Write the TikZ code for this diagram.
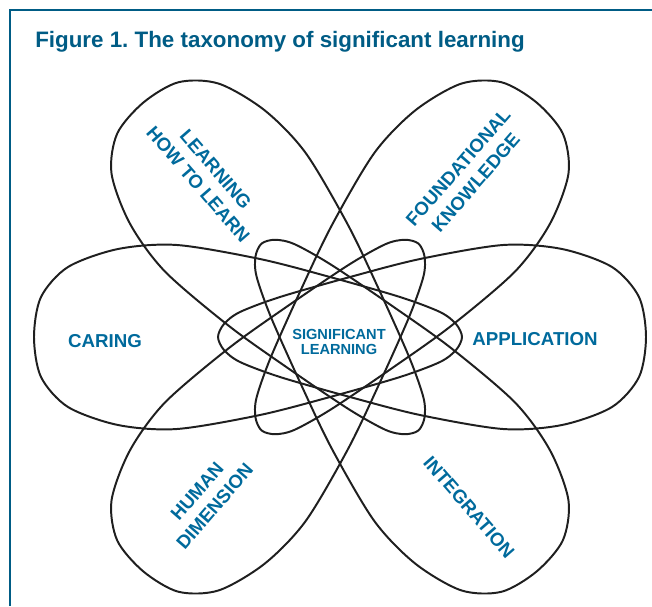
\documentclass[tikz,border=0pt]{standalone}
\usepackage{fontspec}
\setmainfont{Liberation Sans}
\usetikzlibrary{positioning}
\definecolor{frameColor}{RGB}{0,92,133}
\definecolor{labelColor}{RGB}{0,106,156}
\tikzset{petalLine/.style={draw=black!88, line width=1.4pt, line join=round}}
\tikzset{petalText/.style={text=labelColor, font=\bfseries\fontsize{13.3}{16.5}\selectfont, align=center, inner sep=0pt}}
\tikzset{hubText/.style={petalText, font=\bfseries\fontsize{10.4}{10.8}\selectfont}}
\tikzset{titleText/.style={text=frameColor, font=\bfseries\fontsize{15.9}{18}\selectfont, inner sep=0pt}}
\frenchspacing

\begin{document}
\begin{tikzpicture}[x=0.025cm, y=-0.025cm]
\useasboundingbox (0,0) rectangle (652,606);
% Frame
\draw[frameColor, line width=2.1pt] (10,606) -- (10,10) -- (652,10);
\node (title) [titleText, anchor=base west] at (35,47) {Figure 1. The taxonomy of significant learning};

% Petals
\coordinate (hub) at (340,337);
\foreach \ang in {0,50,130,180,230,310}
  \draw[petalLine, shift={(hub)}, rotate=\ang] plot[smooth cycle] coordinates {
    (306,0) (299,40) (272,70) (222,88) (163,92) (80,78) (10,60) (-60,40)
    (-100,25) (-116,13) (-122,0) (-116,-13) (-100,-25) (-60,-40) (10,-60)
    (80,-78) (163,-92) (222,-88) (272,-70) (299,-40)};

% Labels
\node (significant) [hubText] at (339,342) {SIGNIFICANT\\LEARNING};
\node (caring) [petalText] at (105,341) {CARING};
\node (application) [petalText] at (535,339) {APPLICATION};
\node (learning) [petalText, rotate=-49] at (207,177) {LEARNING\\HOW TO LEARN};
\node (foundational) [petalText, rotate=49] at (467,175) {FOUNDATIONAL\\KNOWLEDGE};
\node (human) [petalText, rotate=49] at (206,499) {HUMAN\\DIMENSION};
\node (integration) [petalText, rotate=-49] at (469,507) {INTEGRATION};
\end{tikzpicture}
\end{document}
